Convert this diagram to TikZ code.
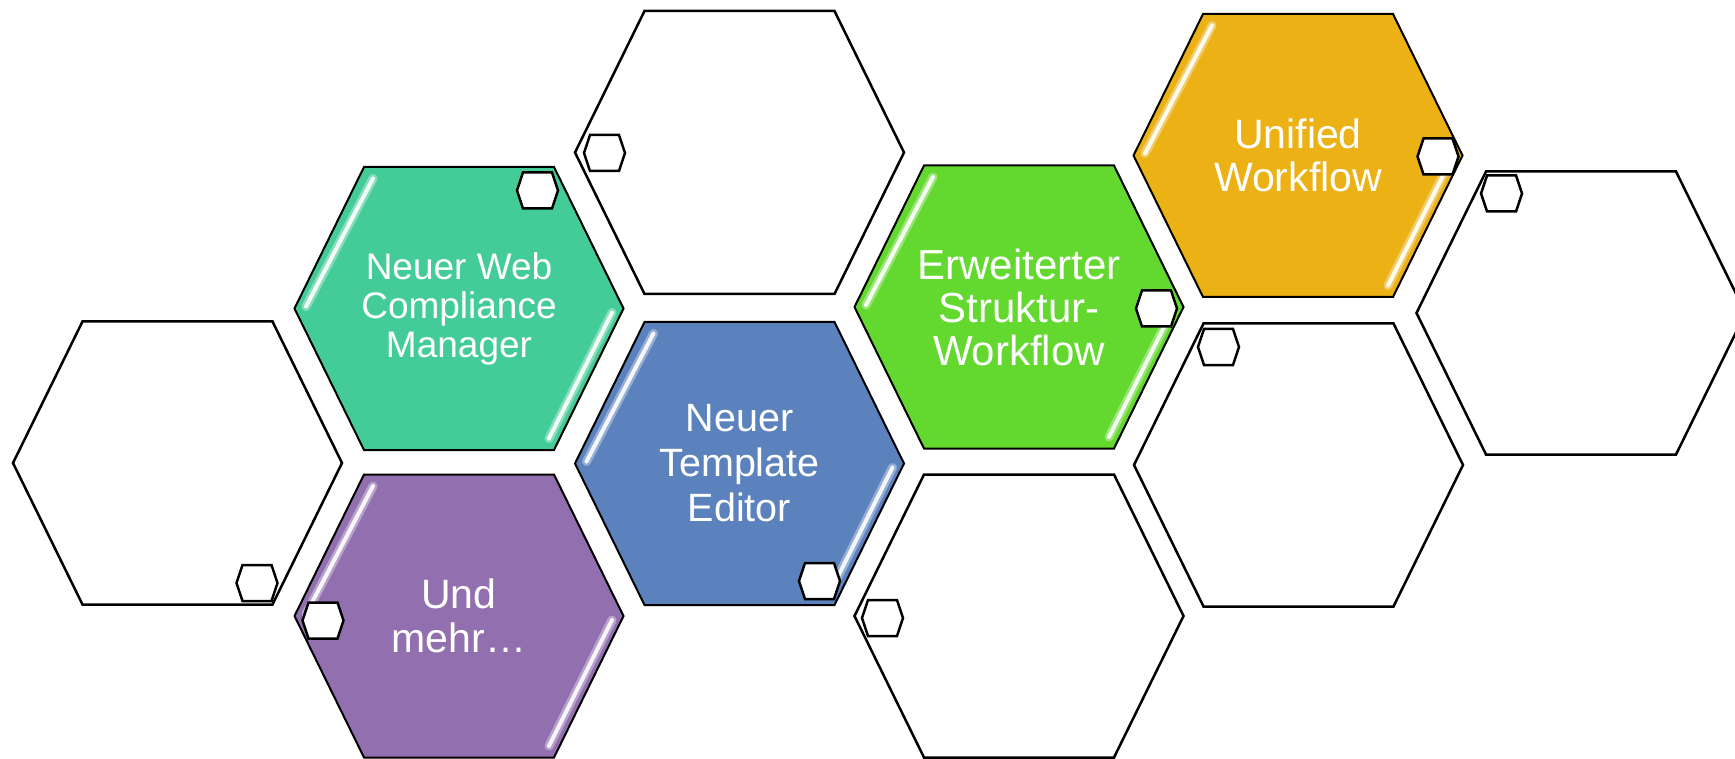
\documentclass[tikz,border=0pt]{standalone}
\usepackage{fontspec}
\setmainfont{Liberation Sans}
\definecolor{hgreen}{HTML}{44CC98}
\definecolor{hblue}{HTML}{5B82BD}
\definecolor{hpurple}{HTML}{9270B0}
\definecolor{hlime}{HTML}{63D92F}
\definecolor{horange}{HTML}{EBB115}
\tikzset{
  bighex/.pic={\path[pic actions] (-95,-141.5) -- (95,-141.5) -- (164.5,0) -- (95,141.5) -- (-95,141.5) -- (-164.5,0) -- cycle;},
  smallhex/.pic={\path[pic actions] (-14.5,-18) -- (14.5,-18) -- (20.5,0) -- (14.5,18) -- (-14.5,18) -- (-20.5,0) -- cycle;},
  gloss/.pic={
    \draw[white,opacity=0.35,line width=9pt,line cap=round] (-86,-130) -- (-153,-2);
    \draw[white,opacity=0.9,line width=4pt,line cap=round] (-86,-130) -- (-153,-2);
    \draw[white,opacity=0.35,line width=9pt,line cap=round] (153,4) -- (90,130);
    \draw[white,opacity=0.9,line width=4pt,line cap=round] (153,4) -- (90,130);
  },
  whitehex/.style={draw=black,fill=white,line width=2.5pt,line join=miter},
  colhex/.style={draw=black,fill=#1,line width=2pt,line join=miter},
  minihex/.style={draw=black,fill=white,line width=2.5pt,line join=miter},
  hextext/.style={text=white,align=center,inner sep=0pt},
}
\begin{document}
\begin{tikzpicture}[x=1pt,y=-1pt]
\useasboundingbox (0,0) rectangle (1735,759);
\clip (0,0) rectangle (1735,759);
\fill[white] (0,0) rectangle (1735,759);
% white hexagons
\path pic[whitehex] at (177.5,463) {bighex};
\path pic[whitehex] at (739.5,152.5) {bighex};
\path pic[whitehex] at (1019,616) {bighex};
\path pic[whitehex] at (1298.5,465) {bighex};
\path pic[whitehex] at (1581,313) {bighex};
% coloured hexagons
\path pic[colhex=hgreen] at (459,308.5) {bighex};
\path pic[colhex=hblue] at (739.5,463.5) {bighex};
\path pic[colhex=hpurple] at (459,616) {bighex};
\path pic[colhex=hlime] at (1019,307) {bighex};
\path pic[colhex=horange] at (1298,155.5) {bighex};
% gloss
\path pic at (459,308.5) {gloss};
\path pic at (739.5,463.5) {gloss};
\path pic at (459,616) {gloss};
\path pic at (1019,307) {gloss};
\path pic at (1298,155.5) {gloss};
% small hexagons
\path pic[minihex] at (257,583) {smallhex};
\path pic[minihex] at (537.5,190.5) {smallhex};
\path pic[minihex] at (604.5,153) {smallhex};
\path pic[minihex] at (819.5,581) {smallhex};
\path pic[minihex] at (323,620.5) {smallhex};
\path pic[minihex] at (1156.5,308.5) {smallhex};
\path pic[minihex] at (1438,156.5) {smallhex};
\path pic[minihex] at (882.5,618) {smallhex};
\path pic[minihex] at (1218.5,347) {smallhex};
\path pic[minihex] at (1501.5,193.5) {smallhex};
% texts
\node[hextext,font=\fontsize{37}{39}\selectfont] (t1) at (459,308.5) {Neuer Web\\Compliance\\Manager};
\node[hextext,font=\fontsize{39.5}{45}\selectfont] (t2) at (739.5,463.5) {Neuer\\Template\\Editor};
\node[hextext,font=\fontsize{41}{44}\selectfont] (t3) at (459,616) {Und\\mehr…};
\node[hextext,font=\fontsize{42}{43}\selectfont] (t4) at (1019,307) {Erweiterter\\Struktur-\\Workflow};
\node[hextext,font=\fontsize{41}{43}\selectfont] (t5) at (1298,155.5) {Unified\\Workflow};
\end{tikzpicture}
\end{document}
